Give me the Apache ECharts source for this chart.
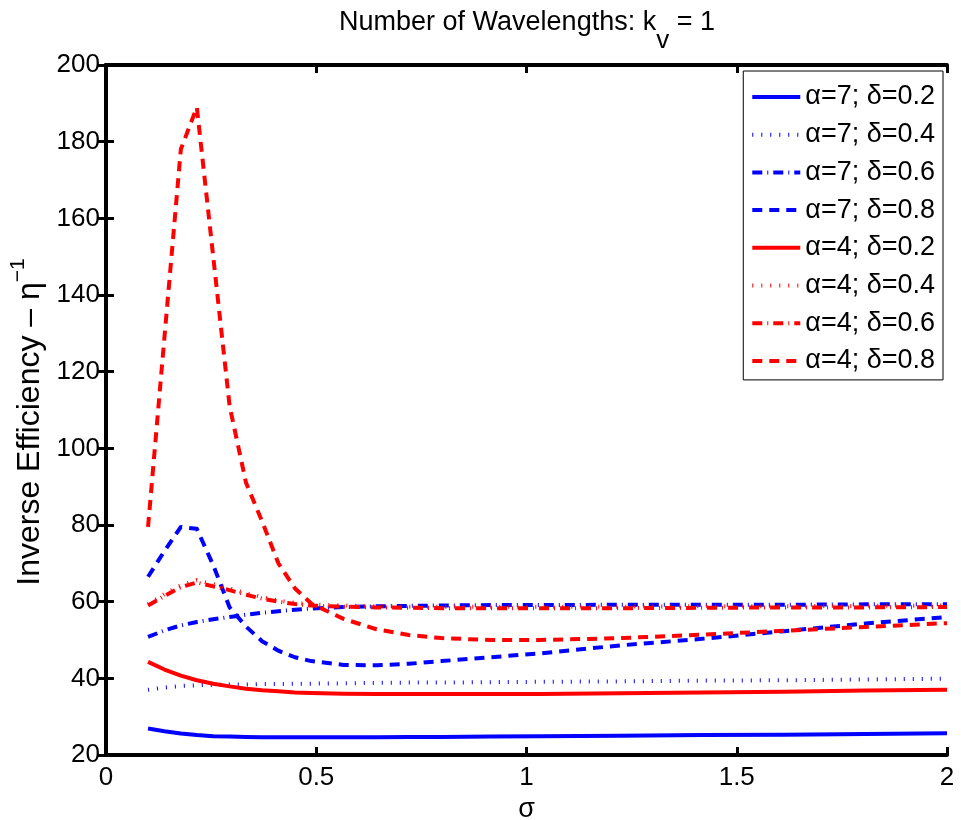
<!DOCTYPE html>
<html><head><meta charset="utf-8">
<script src="https://cdn.jsdelivr.net/npm/echarts@6/dist/echarts.min.js"></script>
<style>html,body{margin:0;padding:0;background:#fff}#c{width:961px;height:820px}</style>
</head><body><div id="c"></div>
<script>
const sigma = [0.1, 0.139, 0.178, 0.216, 0.255, 0.294, 0.333, 0.371, 0.41, 0.449, 0.488, 0.565, 0.643, 0.72, 0.798, 0.914, 1.031, 1.224, 1.418, 1.612, 1.806, 2.0];
const a7d02 = [26.9, 26.2, 25.6, 25.2, 24.9, 24.8, 24.7, 24.6, 24.6, 24.6, 24.6, 24.6, 24.6, 24.7, 24.7, 24.8, 24.9, 25.0, 25.2, 25.3, 25.5, 25.7];
const a7d04 = [37, 37.6, 38, 38.2, 38.3, 38.4, 38.4, 38.5, 38.5, 38.6, 38.6, 38.7, 38.8, 38.9, 38.9, 39, 39.1, 39.2, 39.4, 39.5, 39.7, 39.9];
const a7d06 = [50.8, 52.5, 53.8, 54.7, 55.4, 56, 56.6, 57.1, 57.5, 57.9, 58.2, 58.6, 58.8, 58.9, 59, 59.1, 59.1, 59.2, 59.2, 59.2, 59.3, 59.3];
const a7d08 = [66.5, 73.2, 79.5, 79, 69.5, 58.5, 53.5, 49.7, 47.2, 45.5, 44.5, 43.5, 43.4, 43.8, 44.5, 45.5, 46.5, 48.6, 50.3, 52.3, 54.3, 56];
const a4d02 = [44.3, 42.3, 40.7, 39.5, 38.6, 37.9, 37.3, 36.9, 36.6, 36.3, 36.2, 36, 35.9, 35.9, 35.9, 35.9, 35.9, 36.1, 36.3, 36.5, 36.8, 37];
const a4d04 = [59.3, 62, 64.3, 65.6, 64.6, 63.5, 62.2, 61.2, 60.3, 59.7, 59.3, 59, 58.8, 58.7, 58.7, 58.7, 58.7, 58.7, 58.8, 58.8, 58.9, 59];
const a4d06 = [59, 61.5, 63.8, 65, 64, 63, 61.8, 60.8, 60, 59.4, 59, 58.7, 58.5, 58.4, 58.3, 58.3, 58.3, 58.3, 58.4, 58.5, 58.5, 58.6];
const a4d08 = [79.5, 129, 178, 189, 150, 111, 91, 81, 70, 63.5, 59.5, 55.5, 52.8, 51.3, 50.5, 50, 50, 50.5, 51.4, 52.4, 53.4, 54.4];
const names = ['α=7; δ=0.2','α=7; δ=0.4','α=7; δ=0.6','α=7; δ=0.8','α=4; δ=0.2','α=4; δ=0.4','α=4; δ=0.6','α=4; δ=0.8'];
const values = [a7d02, a7d04, a7d06, a7d08, a4d02, a4d04, a4d06, a4d08];
const yTicks = [20, 40, 60, 80, 100, 120, 140, 160, 180, 200];
const xTicks = [0, 0.5, 1, 1.5, 2];

const colors = ['#0000ff','#0000ff','#0000ff','#0000ff','#ff0000','#ff0000','#ff0000','#ff0000'];
const dashes = ['solid', [1, 8], [10, 5, 1, 5], [10, 7], 'solid', [1, 8], [10, 5, 1, 5], [10, 7]];
const font = 'Liberation Sans, Arial, Helvetica, sans-serif';

const chart = echarts.init(document.getElementById('c'));
const axisCommon = {
  axisLine: {show: true, lineStyle: {color: '#000', width: 4}},
  axisTick: {show: true, inside: true, length: 8, lineStyle: {color: '#000', width: 3}},
  splitLine: {show: false}
};
chart.setOption({
  animation: false,
  backgroundColor: '#fff',
  title: {
    text: '{a|Number of Wavelengths: k}{s|v}{a| = 1}',
    left: 522, top: 4, textAlign: 'center',
    textStyle: {
      fontWeight: 'normal',
      rich: {
        a: {fontFamily: font, fontSize: 27, fontWeight: 'normal', color: '#000', lineHeight: 45, verticalAlign: 'top'},
        s: {fontFamily: font, fontSize: 26, fontWeight: 'normal', color: '#000', lineHeight: 45, verticalAlign: 'bottom'}
      }
    }
  },
  grid: {left: 106, right: 14, top: 65, bottom: 65, containLabel: false, outerBoundsMode: 'none'},
  legend: {
    orient: 'vertical', right: 18, top: 71,
    data: names,
    itemWidth: 48, itemHeight: 14, itemGap: 9.7,
    padding: [12, 8, 5, 7],
    borderColor: '#000', borderWidth: 1, backgroundColor: '#fff',
    itemStyle: {color: 'rgba(0,0,0,0)', borderWidth: 0, opacity: 0},
    lineStyle: {width: 4},
    textStyle: {fontFamily: font, fontSize: 27, color: '#000', lineHeight: 28},
    selectedMode: false
  },
  xAxis: [
    Object.assign({
      type: 'value', min: xTicks[0], max: xTicks[xTicks.length - 1], interval: 0.5,
      name: 'σ', nameLocation: 'middle', nameGap: 25,
      nameTextStyle: {fontFamily: font, fontSize: 27, color: '#000'},
      axisLabel: {fontFamily: font, fontSize: 26, color: '#000', margin: 10}
    }, axisCommon),
    Object.assign({
      type: 'value', position: 'top', min: xTicks[0], max: xTicks[xTicks.length - 1], interval: 0.5,
      axisLabel: {show: false}
    }, axisCommon)
  ],
  yAxis: [
    Object.assign({
      type: 'value', min: yTicks[0], max: yTicks[yTicks.length - 1], interval: 20,
      name: '{a|Inverse Efficiency – η}{s|−1}', nameLocation: 'middle', nameGap: 59, nameRotate: 90,
      nameTextStyle: {
        padding: [0, 24, 0, 0],
        rich: {
          a: {fontFamily: font, fontSize: 32, color: '#000', lineHeight: 38, verticalAlign: 'bottom'},
          s: {fontFamily: font, fontSize: 21, color: '#000', lineHeight: 38, verticalAlign: 'top'}
        }
      },
      axisLabel: {fontFamily: font, fontSize: 26, color: '#000', margin: 6, padding: [6, 0, 0, 0]}
    }, axisCommon),
    Object.assign({
      type: 'value', position: 'right', min: yTicks[0], max: yTicks[yTicks.length - 1], interval: 20,
      axisLabel: {show: false}
    }, axisCommon)
  ],
  series: names.map((n, i) => ({
    name: n, type: 'line', xAxisIndex: 0, yAxisIndex: 0,
    symbol: 'none', showSymbol: false, smooth: false,
    lineStyle: {color: colors[i], width: 4, type: dashes[i], cap: 'butt', join: 'round'},
    itemStyle: {color: colors[i]},
    data: sigma.map((s, j) => [s, values[i][j]]),
    z: 2
  }))
});
</script></body></html>
